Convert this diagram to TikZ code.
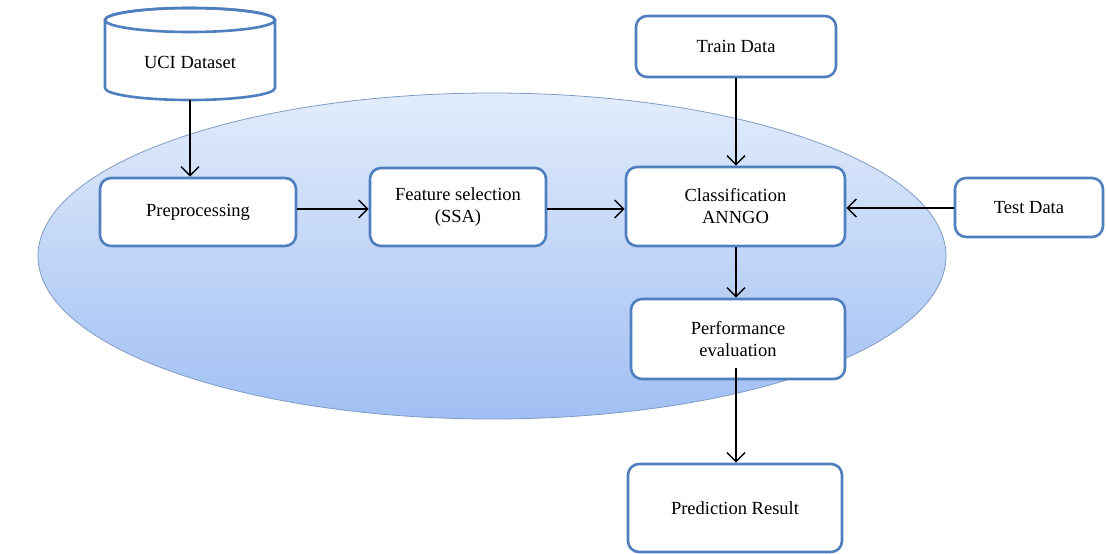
\documentclass[tikz,border=0pt]{standalone}
\usepackage{fontspec}
\setmainfont{Liberation Serif}
\usetikzlibrary{arrows.meta}
\definecolor{boxblue}{HTML}{4F7FBF}
\definecolor{elltop}{HTML}{E2ECFB}
\definecolor{ellbot}{HTML}{A0BFF3}
\definecolor{ellline}{HTML}{7F9CC4}
\tikzset{
  txt/.style={font=\fontsize{18.5}{22}\selectfont},
  procbox/.style={txt, draw=boxblue, line width=2.6pt, rounded corners=11pt, fill=white,
    align=center, inner sep=0pt},
  flow/.style={line width=1.4pt, -{Straight Barb[length=9pt,width=18pt,line width=1.4pt]}},
}
\begin{document}
\begin{tikzpicture}[x=1pt,y=-1pt]
\useasboundingbox (0,0) rectangle (1106,554);
% big ellipse
\path[top color=elltop, bottom color=ellbot, draw=ellline, line width=0.8pt]
  (492,256) ellipse[x radius=454, y radius=163];
% cylinder
\path[draw=boxblue, line width=2.6pt, fill=white]
  (105,20) -- (105,88) arc[start angle=180, end angle=0, x radius=85, y radius=12]
  -- (275,20) arc[start angle=0, end angle=-180, x radius=85, y radius=12] -- cycle;
\draw[boxblue, line width=2.6pt] (190,20) ellipse[x radius=85, y radius=12];
\node[txt, minimum width=170pt, minimum height=76pt, inner sep=0pt] (uci) at (190,62)
  {\raisebox{-4pt}{UCI Dataset}};
% boxes
\node[procbox, minimum width=196pt, minimum height=68pt] (pre) at (198,212) {Preprocessing};
\node[procbox, minimum width=176pt, minimum height=78pt] (fs) at (458,207) {Feature selection\\(SSA)};
\node[procbox, minimum width=219pt, minimum height=79pt] (cls) at (735.5,206.5) {Classification\\ANNGO};
\node[procbox, minimum width=200pt, minimum height=61pt] (train) at (736,46.5) {Train Data};
\node[procbox, minimum width=148pt, minimum height=59pt] (test) at (1029,207.5) {Test Data};
\node[procbox, minimum width=214pt, minimum height=80pt] (perf) at (738,339) {Performance\\evaluation};
\node[procbox, minimum width=214pt, minimum height=88pt] (pred) at (735,508) {Prediction Result};
% arrows
\draw[flow] (uci.south) -- (uci.south |- pre.north);
\draw[flow] (pre.east |- 0,209) -- (fs.west |- 0,209);
\draw[flow] (fs.east |- 0,209) -- (cls.west |- 0,209);
\draw[flow] (train.south) -- (train.south |- cls.north);
\draw[flow] (test.west |- 0,208) -- (cls.east |- 0,208);
\draw[flow] (cls.south -| 736,0) -- (perf.north -| 736,0);
\draw[flow] (736,368) -- (pred.north -| 736,0);
\end{tikzpicture}
\end{document}
